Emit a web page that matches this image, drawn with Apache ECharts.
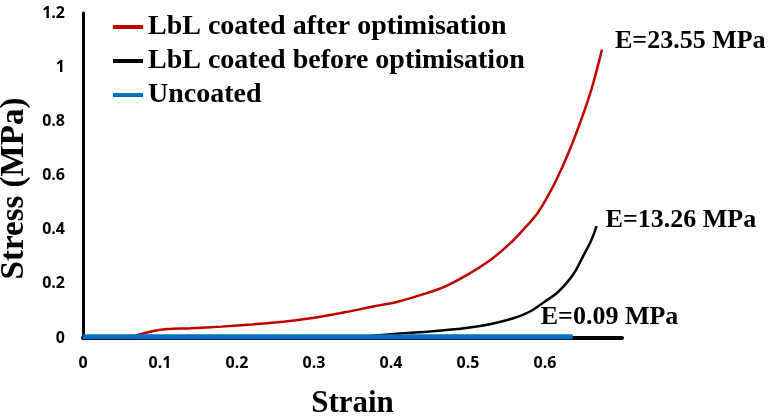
<!DOCTYPE html>
<html>
<head>
<meta charset="utf-8">
<script src="https://cdn.jsdelivr.net/npm/echarts@6/dist/echarts.min.js"></script>
<style>html,body{margin:0;padding:0;background:#fff}#c{width:774px;height:417px}</style>
</head>
<body>
<div id="c"></div>
<script>
const seriesNames = ['LbL coated after optimisation', 'LbL coated before optimisation', 'Uncoated'];
const modulusLabels = ['E=23.55 MPa', 'E=13.26 MPa', 'E=0.09 MPa'];
const xTicks = [0, 0.1, 0.2, 0.3, 0.4, 0.5, 0.6];
const yTicks = [0, 0.2, 0.4, 0.6, 0.8, 1, 1.2];

const afterStrain = [0, 0.06, 0.072, 0.09, 0.11, 0.14, 0.18, 0.22, 0.26, 0.30, 0.34, 0.38, 0.41, 0.44, 0.47, 0.50, 0.53, 0.555, 0.575, 0.59, 0.60, 0.615, 0.63, 0.645, 0.66, 0.674];
const afterStress = [0, 0, 0.012, 0.025, 0.033, 0.036, 0.042, 0.05, 0.06, 0.075, 0.095, 0.118, 0.135, 0.16, 0.19, 0.235, 0.29, 0.35, 0.41, 0.46, 0.505, 0.585, 0.68, 0.79, 0.915, 1.065];

const beforeStrain = [0, 0.35, 0.40, 0.45, 0.50, 0.53, 0.56, 0.58, 0.60, 0.615, 0.63, 0.64, 0.65, 0.66, 0.667];
const beforeStress = [0, 0.004, 0.014, 0.024, 0.038, 0.052, 0.074, 0.097, 0.135, 0.165, 0.21, 0.25, 0.305, 0.36, 0.413];

const uncoatedStrain = [0, 0.2, 0.4, 0.636];
const uncoatedStress = [0.005, 0.005, 0.005, 0.005];

const zip = (a, b) => a.map((v, i) => [v, b[i]]);
const serif = '"Liberation Serif", "Times New Roman", serif';
const sans = '"Open Sans", "Liberation Sans", sans-serif';

const chart = echarts.init(document.getElementById('c'), null, {renderer: 'canvas'});
chart.setOption({
  animation: false,
  backgroundColor: '#ffffff',
  grid: {left: 83, right: 152, top: 13, bottom: 79, containLabel: false, outerBoundsMode: 'none'},
  legend: {
    orient: 'vertical', left: 108, top: 8, itemWidth: 30, itemHeight: 4, itemGap: 6,
    icon: 'rect',
    textStyle: {fontFamily: serif, fontWeight: 'bold', fontSize: 28, color: '#000'},
    data: seriesNames
  },
  xAxis: {
    type: 'value', min: 0, max: 0.7, interval: 0.1,
    name: 'Strain', nameLocation: 'middle', nameGap: 50,
    nameTextStyle: {fontFamily: serif, fontWeight: 'bold', fontSize: 31, color: '#000'},
    axisLine: {show: true, onZero: false, lineStyle: {color: '#000', width: 4}},
    axisTick: {show: false},
    splitLine: {show: false},
    axisLabel: {
      margin: 17, color: '#000', fontFamily: sans, fontWeight: 'bold', fontSize: 16,
      formatter: v => { const t = xTicks.find(k => Math.abs(k - v) < 1e-6); return t === undefined ? '' : String(t); }
    }
  },
  yAxis: {
    type: 'value', min: 0, max: 1.2, interval: 0.2,
    name: 'Stress (MPa)', nameLocation: 'middle', nameGap: 50, nameRotate: 90,
    nameTextStyle: {fontFamily: serif, fontWeight: 'bold', fontSize: 33, color: '#000', padding: [0, 26, 0, 0]},
    axisLine: {show: true, onZero: false, lineStyle: {color: '#000', width: 3}},
    axisTick: {show: false},
    splitLine: {show: false},
    axisLabel: {
      margin: 18, color: '#000', fontFamily: sans, fontWeight: 'bold', fontSize: 16,
      formatter: v => { const t = yTicks.find(k => Math.abs(k - v) < 1e-6); return t === undefined ? '' : String(t); }
    }
  },
  series: [
    {
      name: seriesNames[0], type: 'line', data: zip(afterStrain, afterStress), smooth: 0.35,
      showSymbol: false, color: '#c00000', lineStyle: {width: 2.5, color: '#c00000'}, z: 3,
      endLabel: {show: true, formatter: modulusLabels[0], offset: [5, -8], fontFamily: serif, fontWeight: 'bold', fontSize: 26, color: '#000'}
    },
    {
      name: seriesNames[1], type: 'line', data: zip(beforeStrain, beforeStress), smooth: 0.35,
      showSymbol: false, color: '#000000', lineStyle: {width: 2.5, color: '#000'}, z: 4,
      endLabel: {show: true, formatter: modulusLabels[1], offset: [1, -6], fontFamily: serif, fontWeight: 'bold', fontSize: 26, color: '#000'}
    },
    {
      name: seriesNames[2], type: 'line', data: zip(uncoatedStrain, uncoatedStress),
      showSymbol: false, color: '#0070c0', lineStyle: {width: 5, color: '#0070c0'}, z: 5,
      endLabel: {show: true, formatter: modulusLabels[2], offset: [-40, -19], fontFamily: serif, fontWeight: 'bold', fontSize: 26, color: '#000'}
    }
  ]
});
</script>
</body>
</html>
